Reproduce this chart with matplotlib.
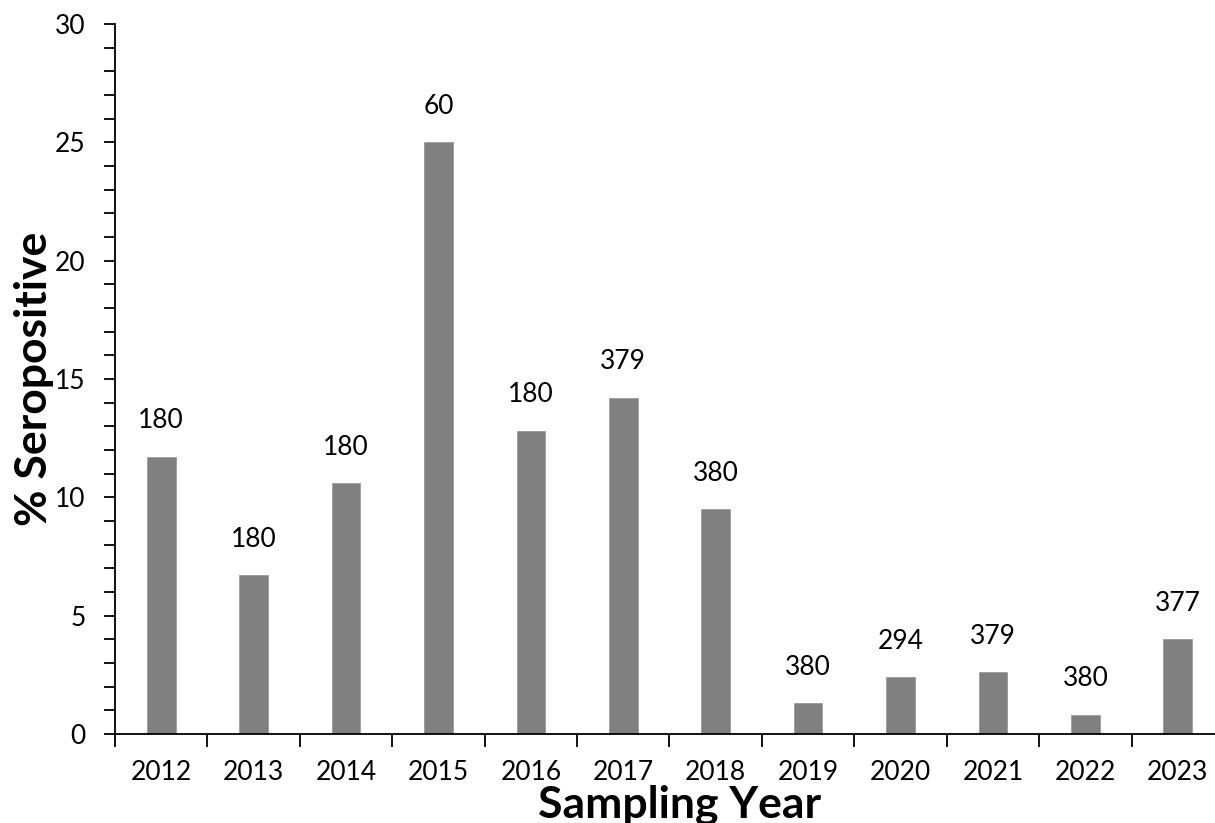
import matplotlib.pyplot as plt
from matplotlib.ticker import MultipleLocator
import numpy as np

plt.rcParams['font.family'] = ['Lato', 'DejaVu Sans']

years = ['2012', '2013', '2014', '2015', '2016', '2017', '2018', '2019', '2020', '2021', '2022', '2023']
pct_seropositive = [11.7, 6.7, 10.6, 25.0, 12.8, 14.2, 9.5, 1.3, 2.4, 2.6, 0.8, 4.0]
sample_sizes = ['180', '180', '180', '60', '180', '379', '380', '380', '294', '379', '380', '377']

W, H = 1215, 823
fig = plt.figure(figsize=(W / 100, H / 100), dpi=100)
ax = fig.add_axes([115 / W, (H - 734) / H, (1224 - 115) / W, (734 - 24) / H])

x = np.arange(len(years))
ax.bar(x, pct_seropositive, width=0.31, color='#808080', edgecolor='#9a9a9a', linewidth=0.6)

for xi, v, n in zip(x, pct_seropositive, sample_sizes):
    ax.annotate(n, (xi, v), xytext=(0, 17), textcoords='offset points',
                ha='center', va='bottom', fontsize=19)

ax.set_xlim(-0.5, len(years) - 0.5)
ax.set_ylim(0, 30)
ax.yaxis.set_major_locator(MultipleLocator(5))
ax.yaxis.set_minor_locator(MultipleLocator(1))
ax.tick_params(axis='y', which='both', direction='out', length=8, width=1.3, labelsize=19, pad=13)

# tick marks sit between categories, labels at centres
ax.set_xticks(x)
ax.set_xticklabels(years, fontsize=19)
ax.set_xticks(np.arange(-0.5, len(years), 1), minor=True)
ax.tick_params(axis='x', which='major', length=0, pad=19)
ax.tick_params(axis='x', which='minor', direction='out', length=9, width=1.3)

for side in ['top', 'right']:
    ax.spines[side].set_visible(False)
for side in ['left', 'bottom']:
    ax.spines[side].set_linewidth(1.3)

ax.set_ylabel('% Seropositive', fontsize=32, fontweight='bold')
ax.yaxis.set_label_coords(-0.055, 0.5)
ax.set_xlabel('Sampling Year', fontsize=32, fontweight='bold')
ax.xaxis.set_label_coords(0.509, -0.071)

fig.savefig('out.png', dpi=100)
